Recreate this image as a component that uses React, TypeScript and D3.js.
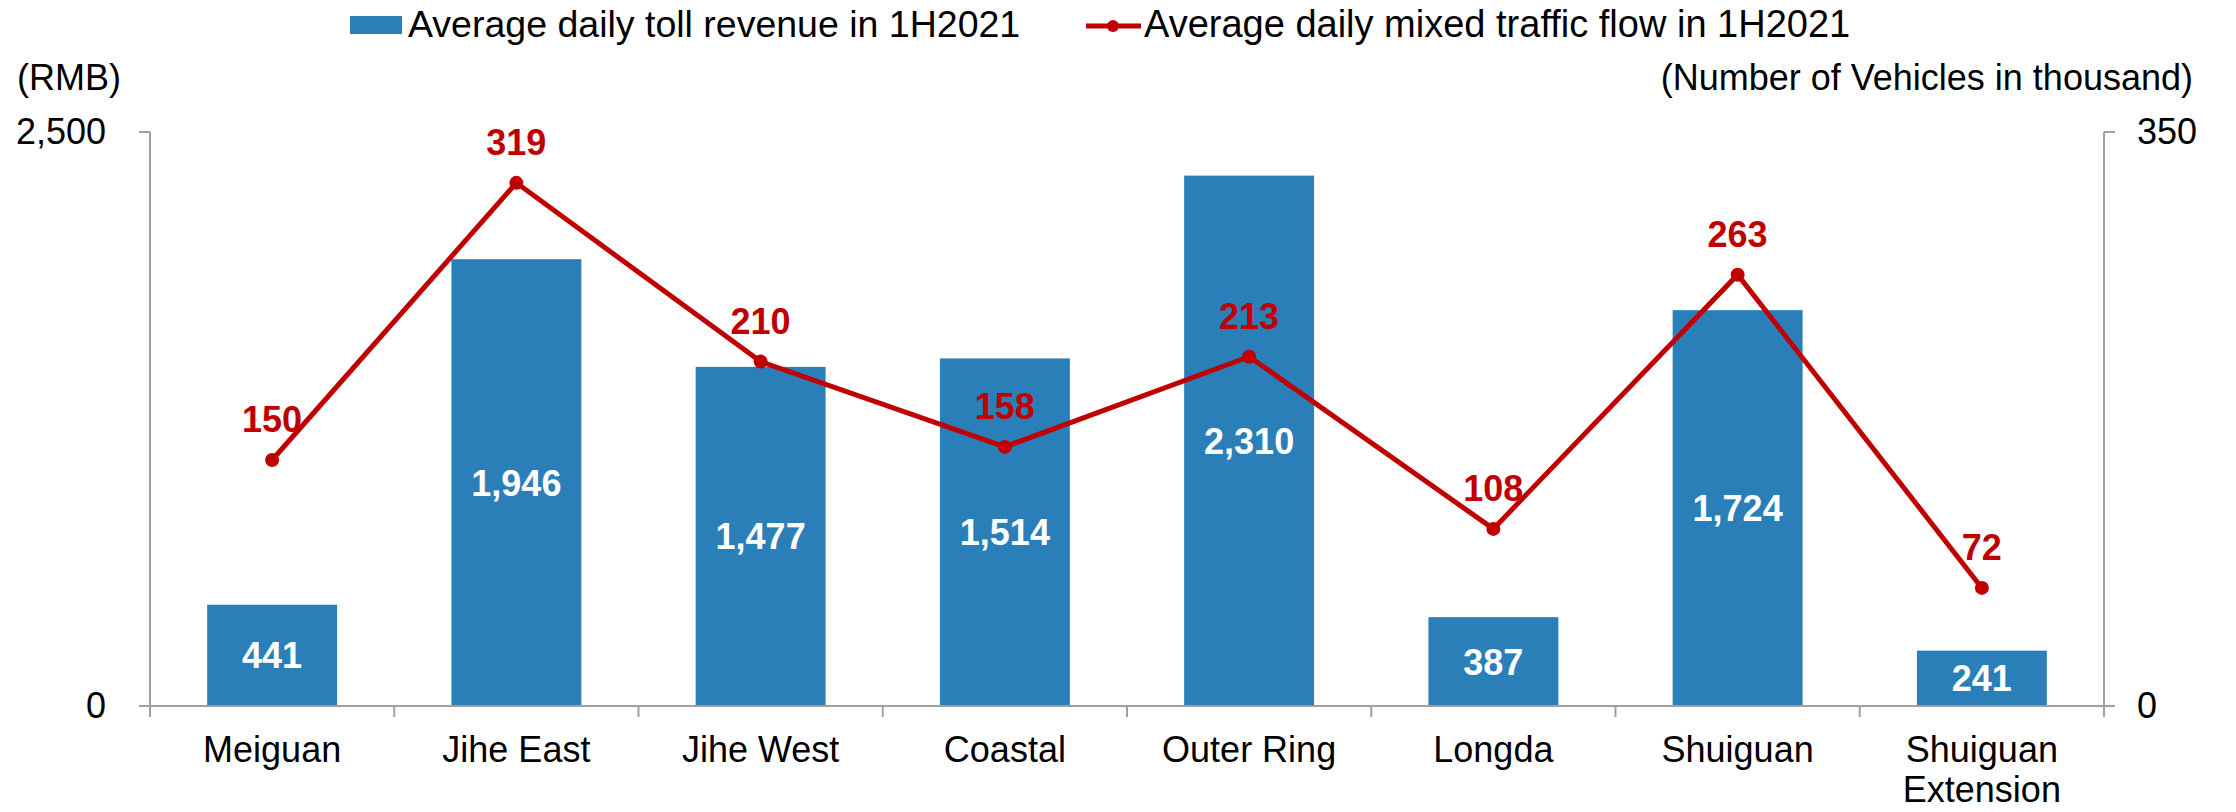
import React, { useEffect } from 'react';
import * as d3 from 'd3';

const categories = ['Meiguan', 'Jihe East', 'Jihe West', 'Coastal', 'Outer Ring', 'Longda', 'Shuiguan', 'Shuiguan\nExtension'];
const revenue = [441, 1946, 1477, 1514, 2310, 387, 1724, 241];
const traffic = [150, 319, 210, 158, 213, 108, 263, 72];
const leftTicks = [0, 2500];
const rightTicks = [0, 350];
const barName = 'Average daily toll revenue in 1H2021';
const lineName = 'Average daily mixed traffic flow in 1H2021';

const W = 2236;
const H = 812;
const BLUE = '#2b7fb8';
const RED = '#c00000';
const AXIS = '#a0a0a0';
const FONT = '"Liberation Sans", Arial, sans-serif';
const FS = 36;

export default function App() {
  useEffect(() => {
    document.body.style.margin = '0';
  }, []);

  const left = 150, right = 2104, top = 132, bottom = 706;

  const x = d3.scaleBand<string>().domain(categories).range([left, right]).paddingInner(0.468).paddingOuter(0.234);
  const band = d3.scaleBand<string>().domain(categories).range([left, right]);
  const yL = d3.scaleLinear().domain([0, 2500]).range([bottom, top]);
  const yR = d3.scaleLinear().domain([0, 350]).range([bottom, top]);

  const cx = (c: string) => (band(c) as number) + band.bandwidth() / 2;
  const line = d3.line<number>().x((_, i) => cx(categories[i])).y(d => yR(d));
  const fmt = d3.format(',');

  return (
    <svg width={W} height={H} style={{ display: 'block', background: '#fff' }} fontFamily={FONT}>
      {/* legend */}
      <rect x={350} y={16} width={52} height={18} fill={BLUE} />
      <text x={408} y={37} fontSize={37.5} fill="#000">{barName}</text>
      <line x1={1086} x2={1141} y1={26} y2={26} stroke={RED} strokeWidth={5} />
      <circle cx={1113} cy={26} r={6} fill={RED} />
      <text x={1144} y={37} fontSize={38} fill="#000">{lineName}</text>

      {/* axis titles */}
      <text x={17} y={90} fontSize={FS} fill="#000">(RMB)</text>
      <text x={2193} y={90} fontSize={FS} fill="#000" textAnchor="end">(Number of Vehicles in thousand)</text>

      {/* bars */}
      {revenue.map((v, i) => (
        <g key={categories[i]}>
          <rect x={x(categories[i])} y={yL(v)} width={x.bandwidth()} height={yL(0) - yL(v)} fill={BLUE} />
          <text x={cx(categories[i])} y={(yL(v) + yL(0)) / 2 + 13} fontSize={FS} fontWeight="bold" fill="#fff" textAnchor="middle">{fmt(v)}</text>
        </g>
      ))}

      {/* axes */}
      <line x1={left} x2={left} y1={top} y2={bottom + 11} stroke={AXIS} strokeWidth={2} />
      <line x1={right} x2={right} y1={top} y2={bottom + 11} stroke={AXIS} strokeWidth={2} />
      <line x1={left - 11} x2={right + 11} y1={bottom} y2={bottom} stroke={AXIS} strokeWidth={2} />
      {leftTicks.map(t => (
        <g key={'l' + t}>
          <line x1={left - 11} x2={left} y1={yL(t)} y2={yL(t)} stroke={AXIS} strokeWidth={2} />
          <text x={106} y={yL(t) + 12} fontSize={FS} textAnchor="end" fill="#000">{fmt(t)}</text>
        </g>
      ))}
      {rightTicks.map(t => (
        <g key={'r' + t}>
          <line x1={right} x2={right + 11} y1={yR(t)} y2={yR(t)} stroke={AXIS} strokeWidth={2} />
          <text x={2137} y={yR(t) + 12} fontSize={FS} fill="#000">{t}</text>
        </g>
      ))}
      {categories.map((c, i) => (
        <line key={'t' + i} x1={band(c)} x2={band(c)} y1={bottom} y2={bottom + 11} stroke={AXIS} strokeWidth={2} />
      ))}
      {categories.map(c => (
        <text key={'c' + c} x={cx(c)} y={762} fontSize={FS} textAnchor="middle" fill="#000">
          {c.split('\n').map((s, j) => (
            <tspan key={j} x={cx(c)} dy={j === 0 ? 0 : 40}>{s}</tspan>
          ))}
        </text>
      ))}

      {/* line series */}
      <path d={line(traffic) || ''} fill="none" stroke={RED} strokeWidth={5} />
      {traffic.map((v, i) => (
        <g key={'p' + i}>
          <circle cx={cx(categories[i])} cy={yR(v)} r={7} fill={RED} />
          <text x={cx(categories[i])} y={yR(v) - 28} fontSize={FS} fontWeight="bold" fill={RED} textAnchor="middle">{v}</text>
        </g>
      ))}
    </svg>
  );
}
